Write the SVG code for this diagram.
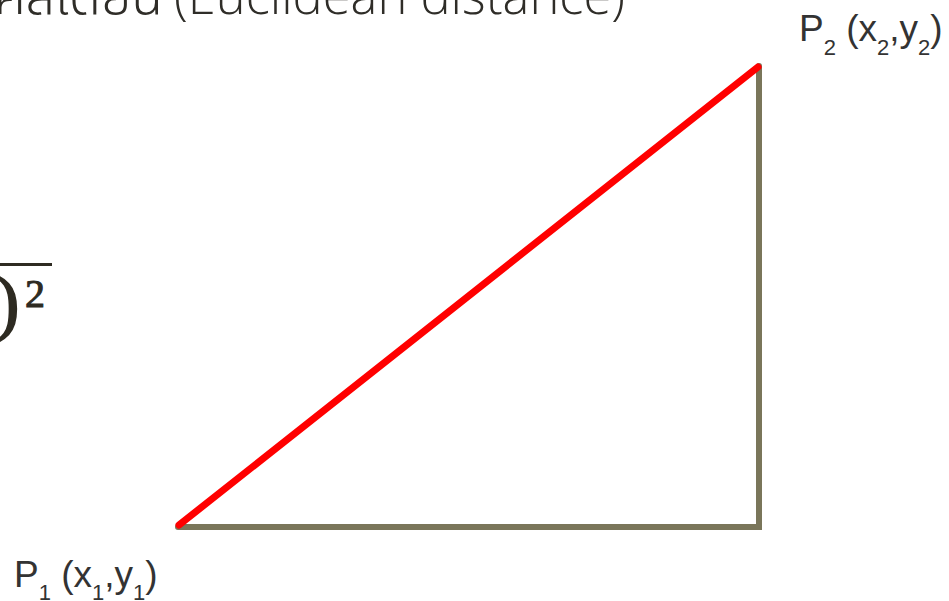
<svg xmlns="http://www.w3.org/2000/svg" width="949" height="601" viewBox="0 0 949 601">
<style>
.title{font-family:"Open Sans","Noto Sans Thai","Noto Sans","Liberation Sans",sans-serif;font-weight:300;font-size:52px;fill:#2f2d28}
.lbl{font-family:"Liberation Sans","Noto Sans",sans-serif;font-size:37px;fill:#333333}
.sub{font-size:22px}
.math{font-family:"Liberation Serif","DejaVu Serif",serif;fill:#2e2b22;stroke:#2e2b22}
.leg{fill:none;stroke:#7a765a;stroke-width:6;stroke-linecap:round;stroke-linejoin:miter}
.hyp{fill:none;stroke:#ff0000;stroke-width:7;stroke-linecap:round}
</style>
<rect width="949" height="601" fill="#ffffff"/>
<g id="title">
<text class="title" x="163" y="14" text-anchor="end" font-size="56">ระยะทางแบบยุคลิเดียน</text>
<text class="title" x="174" y="14" textLength="451" lengthAdjust="spacingAndGlyphs">(Euclidean distance)</text>
</g>
<g id="formula">
<line x1="-5" y1="264.5" x2="52" y2="264.5" stroke="#2e2b22" stroke-width="3"/>
<text class="math" x="-5" y="327" font-size="74" stroke-width="1.5">)</text>
<text class="math" x="25" y="307" font-size="40" stroke-width="1">2</text>
</g>
<g id="connectors">
<path class="leg" d="M178,527 H759 V66"/>
<line class="hyp" x1="179" y1="525" x2="758" y2="67"/>
</g>
<g id="node-p1">
<text class="lbl" x="14" y="587">P<tspan class="sub" dy="13">1</tspan><tspan dy="-13"> (x</tspan><tspan class="sub" dy="13">1</tspan><tspan dy="-13">,y</tspan><tspan class="sub" dy="13">1</tspan><tspan dy="-13">)</tspan></text>
</g>
<g id="node-p2">
<text class="lbl" x="799" y="41">P<tspan class="sub" dy="14">2</tspan><tspan dy="-14"> (x</tspan><tspan class="sub" dy="14">2</tspan><tspan dy="-14">,y</tspan><tspan class="sub" dy="14">2</tspan><tspan dy="-14">)</tspan></text>
</g>
</svg>
